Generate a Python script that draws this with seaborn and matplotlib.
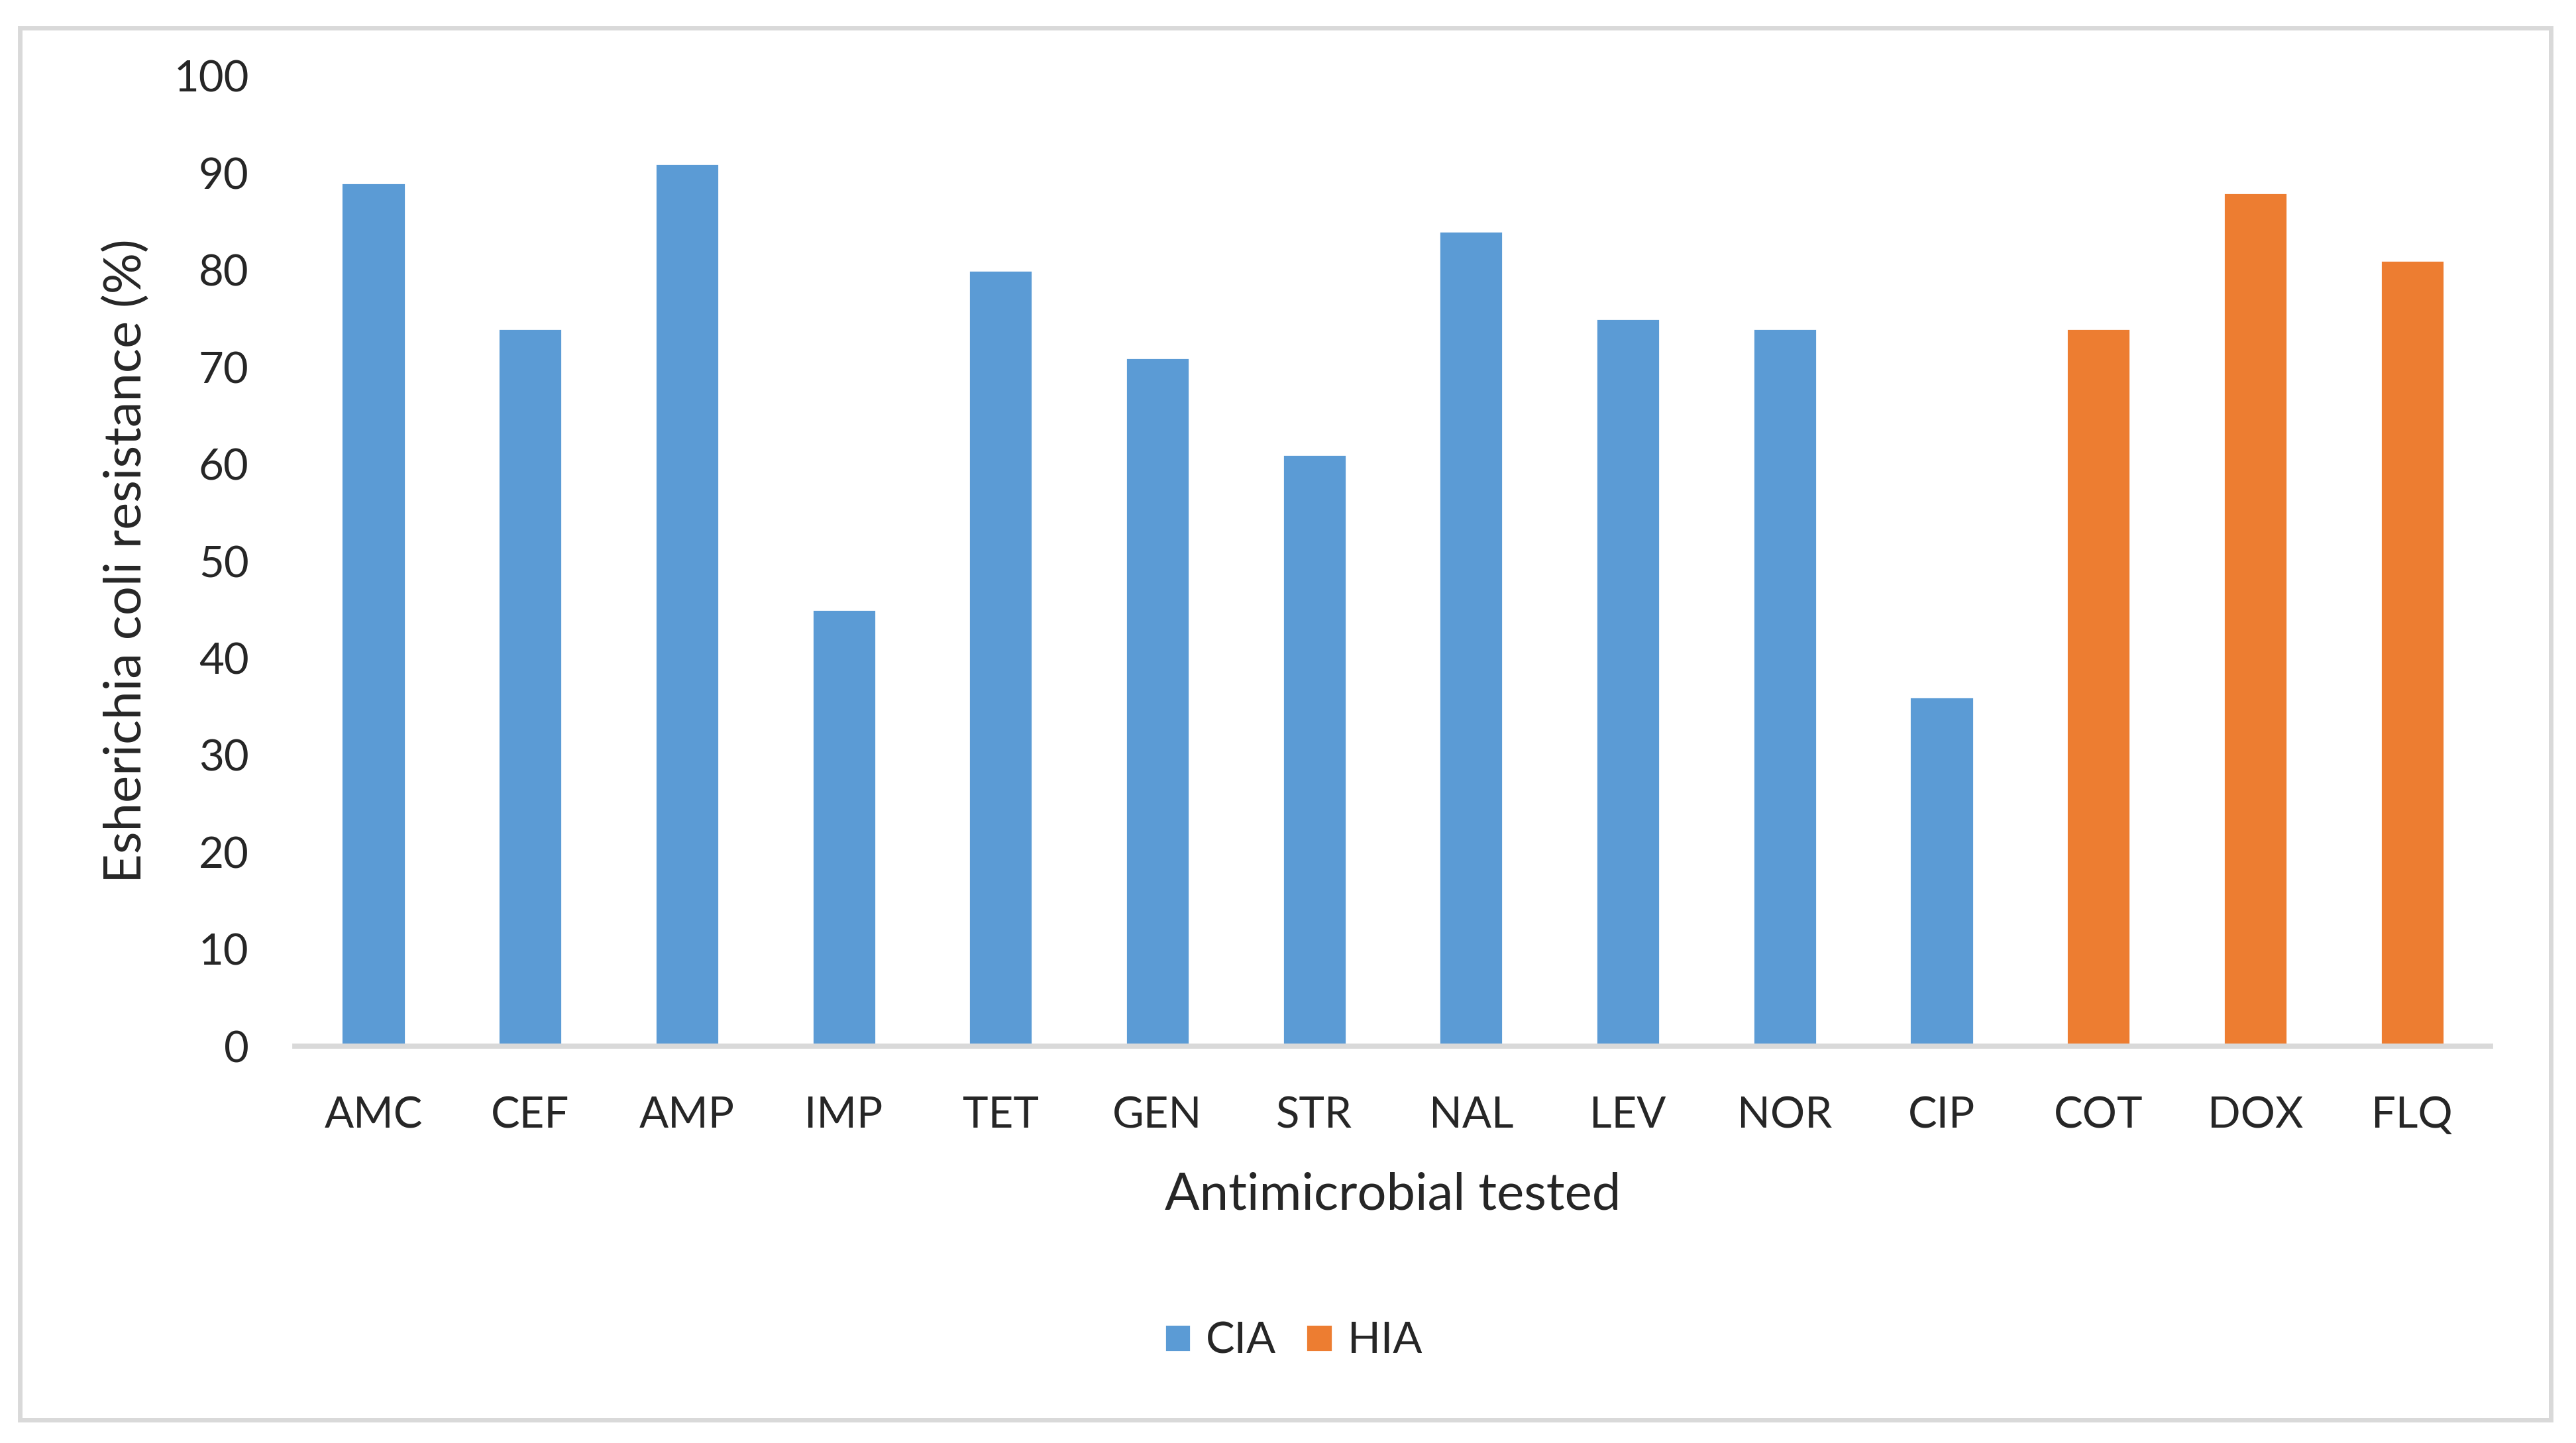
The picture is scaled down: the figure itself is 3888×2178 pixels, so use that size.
import matplotlib
matplotlib.use("Agg")
import matplotlib.pyplot as plt
import seaborn as sns
import pandas as pd
from matplotlib.patches import Rectangle

# data
antimicrobials = ["AMC", "CEF", "AMP", "IMP", "TET", "GEN", "STR",
                  "NAL", "LEV", "NOR", "CIP", "COT", "DOX", "FLQ"]
resistance = [89, 74, 91, 45, 80, 71, 61, 84, 75, 74, 36, 74, 88, 81]
groups = ["CIA"] * 11 + ["HIA"] * 3

BLUE = "#5B9BD5"
ORANGE = "#ED7D31"
GREY = "#D9D9D9"

df = pd.DataFrame({"drug": antimicrobials, "res": resistance, "group": groups})

sns.set_style("white")
plt.rcParams["font.family"] = ["Lato", "DejaVu Sans"]

fig = plt.figure(figsize=(19.44, 10.89), dpi=200)
ax = fig.add_axes([0.1145, 0.2750, 0.8523, 0.6722])

sns.barplot(data=df, x="drug", y="res", hue="group",
            palette={"CIA": BLUE, "HIA": ORANGE}, dodge=False,
            width=0.406, saturation=1, legend=True, ax=ax)

ax.set_xlim(-0.5, len(antimicrobials) - 0.5)
ax.set_ylim(0, 100)
ax.set_yticks(range(0, 101, 10))
ax.tick_params(axis="y", length=0, pad=25, labelsize=23.5)
ax.tick_params(axis="x", length=0, pad=27, labelsize=23.5)

for side in ["top", "right", "left"]:
    ax.spines[side].set_visible(False)
ax.spines["bottom"].set_color(GREY)
ax.spines["bottom"].set_linewidth(2.8)

ax.set_xlabel("Antimicrobial tested", fontsize=28, labelpad=20)
ax.set_ylabel("Esherichia coli resistance (%)", fontsize=28, labelpad=13)

handles, labels = ax.get_legend_handles_labels()
ax.get_legend().remove()
fig.legend(handles, labels, loc="center", bbox_to_anchor=(0.502, 0.0708),
           ncol=2, frameon=False, fontsize=23.5, handlelength=0.6,
           handleheight=0.6, handletextpad=0.35, columnspacing=0.7)

# light grey chart border
fig.add_artist(Rectangle((30 / 3888, 1 - 2143 / 2178),
                         (3850 - 30) / 3888, (2143 - 42) / 2178,
                         transform=fig.transFigure, fill=False,
                         edgecolor=GREY, linewidth=2.5))

fig.savefig("out.png", dpi=200, facecolor="white")
